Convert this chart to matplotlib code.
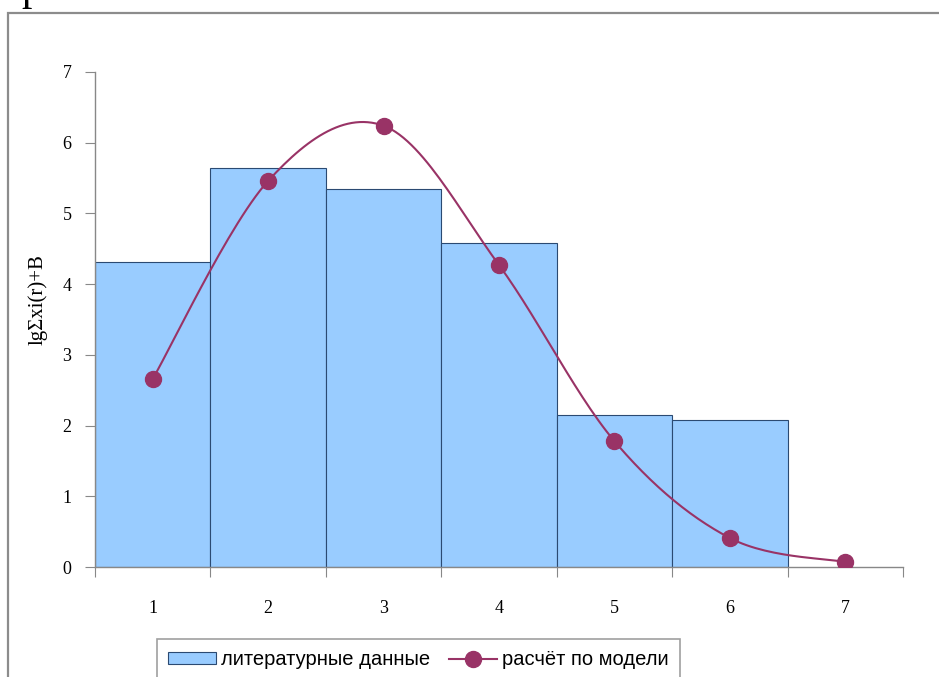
import numpy as np
import matplotlib
matplotlib.use("Agg")
import matplotlib.pyplot as plt
from matplotlib.patches import Rectangle
from matplotlib.lines import Line2D

categories = [1, 2, 3, 4, 5, 6, 7]
tick_labels = ["1", "2", "3", "4", "5", "6", "7"]
lit_x = [1, 2, 3, 4, 5, 6]
lit_values = [4.31, 5.64, 5.35, 4.58, 2.15, 2.08]
model_values = [2.66, 5.46, 6.24, 4.27, 1.78, 0.41, 0.07]
ylabel = "lgΣxi(r)+B"
legend_labels = ["литературные данные", "расчёт по модели"]

W, H = 939, 677
fig = plt.figure(figsize=(W / 100, H / 100), dpi=100)
ax = fig.add_axes([95 / W, 1 - 567 / H, (903 - 95) / W, (567 - 72) / H])

serif = "Liberation Serif"
bar_color = "#99CCFF"
line_color = "#993366"

ax.bar(lit_x, lit_values, width=1.0, color=bar_color, edgecolor="#2B4A72",
       linewidth=0.8, zorder=2)


def smooth(xs, ys, n=30):
    xs = np.asarray(xs, float)
    ys = np.asarray(ys, float)
    P = np.column_stack([xs, ys])
    out = [P[0]]
    for i in range(len(P) - 1):
        p0 = P[i - 1] if i > 0 else P[i]
        p1 = P[i]
        p2 = P[i + 1]
        p3 = P[i + 2] if i + 2 < len(P) else P[i + 1]
        c1 = p1 + (p2 - p0) / 6
        c2 = p2 - (p3 - p1) / 6
        t = np.linspace(0, 1, n)[1:, None]
        seg = ((1 - t) ** 3) * p1 + 3 * ((1 - t) ** 2) * t * c1 + 3 * (1 - t) * t ** 2 * c2 + t ** 3 * p2
        out.extend(seg)
    out = np.array(out)
    return out[:, 0], out[:, 1]


sx, sy = smooth(categories, model_values)
ax.plot(sx, sy, color=line_color, lw=1.5, zorder=3)
ax.plot(categories, model_values, "o", color=line_color, markersize=11.5,
        markeredgecolor=line_color, zorder=4)

ax.set_xlim(0.5, 7.5)
ax.set_ylim(0, 7)
ax.set_yticks(range(0, 8))
ax.set_yticklabels([str(v) for v in range(0, 8)], fontfamily=serif, fontsize=13)
ax.set_xticks(np.arange(0.5, 8.0, 1.0))
ax.set_xticklabels([])
ax.set_xticks(categories, minor=True)
ax.set_xticklabels(tick_labels, minor=True, fontfamily=serif, fontsize=13)
ax.tick_params(axis="x", which="minor", length=0, pad=24)
ax.tick_params(axis="x", which="major", length=7, color="#888888", direction="out")
ax.tick_params(axis="y", length=7, color="#888888", direction="out", pad=10)
for s in ["top", "right"]:
    ax.spines[s].set_visible(False)
for s in ["left", "bottom"]:
    ax.spines[s].set_color("#888888")
    ax.spines[s].set_linewidth(1.0)
ax.set_ylabel(ylabel, fontfamily=serif, fontsize=15)
ax.yaxis.set_label_coords(-0.059, (567 - 300) / 495)

handles = [
    Rectangle((0, 0), 1, 1, facecolor=bar_color, edgecolor="#2B4A72", linewidth=0.8),
    Line2D([0], [0], color=line_color, lw=1.5, marker="o", markersize=11.5),
]
leg = fig.legend(handles, legend_labels, loc="upper left",
                 bbox_to_anchor=(157 / W, 1 - 639 / H), ncol=2,
                 prop={"family": "Liberation Sans", "size": 14.5},
                 frameon=True, fancybox=False, edgecolor="#888888",
                 borderpad=0.55, borderaxespad=0, handlelength=2.4,
                 handleheight=0.5, columnspacing=0.9, handletextpad=0.25)
leg.get_frame().set_linewidth(1.2)

# outer chart frame
frame = Rectangle((8 / W, -0.05), 1.1, 1 - 13 / H + 0.05, transform=fig.transFigure,
                  fill=False, edgecolor="#8C8C8C", linewidth=1.6, clip_on=False)
fig.patches.append(frame)

fig.text(32 / W, 1.0, "р", fontfamily=serif, fontsize=30, ha="center", va="baseline")

fig.savefig("out.png", dpi=100)
